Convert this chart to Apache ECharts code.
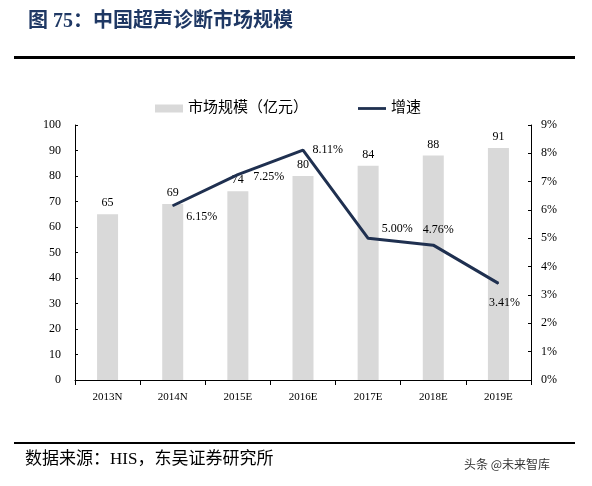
<!DOCTYPE html>
<html><head><meta charset="utf-8">
<script src="https://cdn.jsdelivr.net/npm/echarts@6/dist/echarts.min.js"></script>
<style>body{margin:0;background:#fff}#c{width:592px;height:486px}</style>
</head><body><div id="c"></div>
<script>
const categories=['2013N','2014N','2015E','2016E','2017E','2018E','2019E'];
const marketSize=[65,69,74,80,84,88,91];
const growth=[null,6.15,7.25,8.11,5.00,4.76,3.41];
const serif='"Liberation Serif","Noto Sans CJK SC",serif';
const labelCfg=[null,{position:'right',offset:[8,11]},{position:'right',offset:[10,2]},{position:'right',offset:[4,0]},
  {position:'right',offset:[8,-9]},{position:'right',offset:[-16,-15]},{position:'bottom',offset:[6,8]}];
const chart=echarts.init(document.getElementById('c'));
chart.setOption({
  animation:false,
  graphic:[
    {type:'text',left:28,top:12,style:{text:'图 75：中国超声诊断市场规模',font:'bold 20px '+serif,fill:'#1f3864'}},
    {type:'rect',shape:{x:14,y:56,width:561,height:3},style:{fill:'#000'}},
    {type:'rect',shape:{x:14,y:442,width:561,height:2},style:{fill:'#000'}},
    {type:'text',left:25,top:451,style:{text:'数据来源：HIS，东吴证券研究所',font:'17px '+serif,fill:'#000'}},
    {type:'text',left:464,top:458,style:{text:'头条 @未来智库',font:'12px "Noto Sans CJK SC",sans-serif',fill:'#333'}}
  ],
  legend:{top:96,left:150,itemGap:50,textStyle:{fontFamily:serif,fontSize:15,color:'#000'},
    data:[{name:'市场规模（亿元）',icon:'rect',itemStyle:{color:'#d9d9d9'}},{name:'增速',icon:'path://M0,0H30V3H0Z'}],
    itemWidth:28,itemHeight:8},
  grid:{left:75,right:61,top:125,bottom:106},
  xAxis:{type:'category',data:categories,axisLine:{lineStyle:{color:'#000'}},axisTick:{show:true,lineStyle:{color:'#000'}},
    axisLabel:{fontFamily:serif,fontSize:11,color:'#000',margin:12}},
  yAxis:[
    {type:'value',min:0,max:100,interval:10,axisLine:{show:true,lineStyle:{color:'#000'}},axisTick:{show:true,inside:true,length:3},splitLine:{show:false},
     axisLabel:{fontFamily:serif,fontSize:12,color:'#000',margin:14}},
    {type:'value',min:0,max:9,interval:1,axisLine:{show:true,lineStyle:{color:'#000'}},axisTick:{show:true,inside:true,length:3},splitLine:{show:false},
     axisLabel:{fontFamily:serif,fontSize:12,color:'#000',formatter:'{value}%',margin:10}}
  ],
  series:[
    {name:'市场规模（亿元）',type:'bar',data:marketSize,barWidth:21,itemStyle:{color:'#d9d9d9'},
     label:{show:true,position:'top',fontFamily:serif,fontSize:12,color:'#000'}},
    {name:'增速',type:'line',yAxisIndex:1,data:growth.map((v,i)=>v==null?'-':{value:v,label:labelCfg[i]}),
     symbol:'circle',symbolSize:1,showSymbol:true,lineStyle:{color:'#1f3050',width:3},itemStyle:{color:'#1f3050'},
     label:{show:true,fontFamily:serif,fontSize:12,color:'#000',formatter:p=>Number(p.value).toFixed(2)+'%'}}
  ]
});
</script></body></html>
